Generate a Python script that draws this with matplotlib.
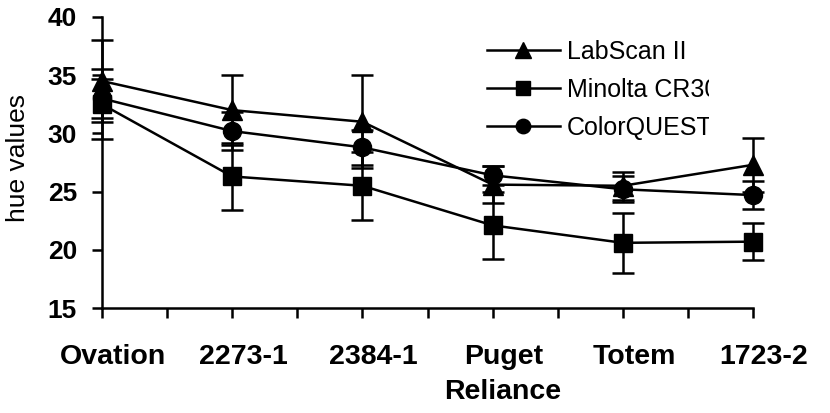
import matplotlib
matplotlib.use("Agg")
import matplotlib.pyplot as plt
from matplotlib.patches import Rectangle
from matplotlib.lines import Line2D

# hue values for each Reliance variety, three colour meters
varieties = ["Ovation", "2273-1", "2384-1", "Puget", "Totem", "1723-2"]
labscan = [34.5, 32.0, 31.0, 25.6, 25.5, 27.3]
labscan_err = [3.5, 3.0, 4.0, 1.6, 1.2, 2.3]
minolta = [32.5, 26.3, 25.5, 22.1, 20.6, 20.7]
minolta_err = [3.0, 2.9, 2.9, 2.9, 2.6, 1.6]
colorquest = [33.0, 30.2, 28.8, 26.4, 25.2, 24.7]
colorquest_err = [1.7, 1.6, 1.5, 0.8, 1.1, 1.2]

plt.rcParams["font.family"] = ["Liberation Sans", "DejaVu Sans"]

fig = plt.figure(figsize=(8.30, 4.13), dpi=100)
ax = fig.add_axes([102 / 830, 1 - 308 / 413, 651 / 830, 291 / 413])

x = list(range(len(varieties)))
series = [
    ("LabScan II", labscan, labscan_err, "^", 15),
    ("Minolta CR300", minolta, minolta_err, "s", 13),
    ("ColorQUEST", colorquest, colorquest_err, "o", 13),
]
handles = []
for name, vals, err, mk, ms in series:
    ax.errorbar(x, vals, yerr=err, color="black", lw=1.8, marker=mk, ms=ms,
                capsize=8, capthick=1.8, elinewidth=1.8,
                clip_on=False, zorder=3)
    handles.append(Line2D([], [], color="black", lw=1.8, marker=mk, ms=ms * 0.8, label=name))

ax.set_xlim(0, 5)
ax.set_ylim(15, 40)
ax.set_yticks([15, 20, 25, 30, 35, 40])
ax.set_xticks(x)
ax.set_xticks([i + 0.5 for i in range(5)], minor=True)
ax.set_xticklabels([])
# category labels sit a little right of their ticks, as in the original
for i, name in enumerate(varieties):
    ax.annotate(name, (i, 0), xycoords=("data", "axes fraction"),
                xytext=(8, -26), textcoords="offset points",
                ha="center", va="top", fontsize=20.5, fontweight="bold")
for lab in ax.get_yticklabels():
    lab.set_fontsize(19)
    lab.set_fontweight("bold")

for side in ["top", "right"]:
    ax.spines[side].set_visible(False)
for side in ["left", "bottom"]:
    ax.spines[side].set_linewidth(1.8)
ax.tick_params(axis="y", direction="out", length=7, width=1.8, pad=11)
ax.tick_params(axis="x", which="both", direction="out", length=7, width=1.8)

ax.set_xlabel("Reliance", fontsize=20.5, fontweight="bold")
ax.xaxis.set_label_coords((503 - 102) / 651, -0.245)
ax.set_ylabel("hue values", fontsize=19)
ax.yaxis.set_label_coords(-0.11, 0.515)

leg = ax.legend(handles=handles, loc="upper left",
                bbox_to_anchor=(487 / 830, 1 - 40 / 413),
                bbox_transform=fig.transFigure, frameon=False,
                prop={"size": 18}, borderaxespad=0,
                handlelength=2.9, handletextpad=0.3, labelspacing=0.55,
                borderpad=0)
clip = Rectangle((0, 0), 709 / 830, 1, transform=fig.transFigure)
for t in leg.get_texts():
    t.set_clip_path(clip)

fig.savefig("out.png", dpi=100)
